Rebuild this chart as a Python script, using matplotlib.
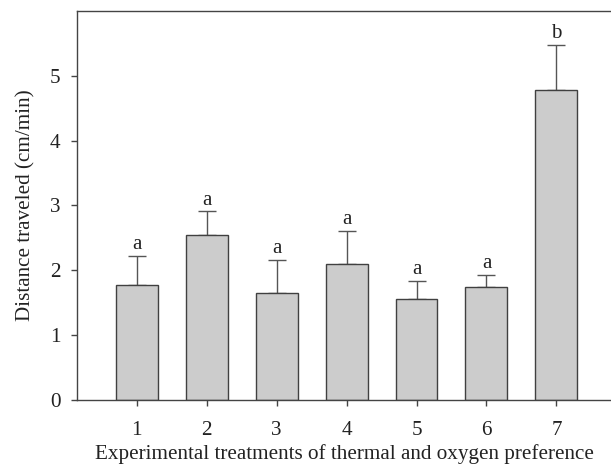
import numpy as np
import matplotlib
matplotlib.use("Agg")
import matplotlib.pyplot as plt

# data
treatments = ["1", "2", "3", "4", "5", "6", "7"]
distance = [1.77, 2.54, 1.64, 2.10, 1.55, 1.74, 4.78]
sem = [0.45, 0.365, 0.52, 0.51, 0.285, 0.19, 0.69]
letters = ["a", "a", "a", "a", "a", "a", "b"]

plt.rcParams['font.family'] = ['Liberation Serif', 'DejaVu Serif']

fig = plt.figure(figsize=(6.11, 4.68), dpi=100)
ax = fig.add_axes([0.126, 0.146, 0.874, 0.8305])

x = np.arange(1, len(treatments) + 1)
ax.bar(x, distance, width=0.6, color='#cccccc', edgecolor='#404040', linewidth=1.0, zorder=2)
ax.errorbar(x, distance, yerr=[np.zeros(len(sem)), sem], fmt='none',
            ecolor='#555555', elinewidth=1.0, capsize=6.5, capthick=1.0, zorder=1)

# significance letters above each error bar
for xi, d, e, l in zip(x, distance, sem, letters):
    ax.text(xi, d + e + 0.03, l, ha='center', va='bottom', fontsize=15, color='#222222')

ax.set_xlim(0.147, 7.78)
ax.set_ylim(0, 6)
ax.set_xticks(x)
ax.set_xticklabels(treatments)
ax.set_yticks([0, 1, 2, 3, 4, 5])

ax.set_xlabel("Experimental treatments of thermal and oxygen preference", fontsize=15.2, color='#222222', labelpad=3)
ax.set_ylabel("Distance traveled (cm/min)", fontsize=15.2, color='#222222', labelpad=10)

ax.tick_params(direction='out', length=4, width=1.0, color='#444444', labelsize=15.2,
               labelcolor='#222222', pad=8)
ax.tick_params(axis='x', pad=11.5)
ax.spines['right'].set_visible(False)
for s in ['top', 'left', 'bottom']:
    ax.spines[s].set_color('#444444')
    ax.spines[s].set_linewidth(1.0)

fig.savefig("out.png", dpi=100)
